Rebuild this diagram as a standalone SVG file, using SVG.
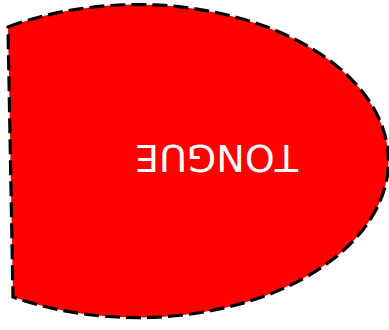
<svg xmlns="http://www.w3.org/2000/svg" width="389" height="330" viewBox="0 0 389 330">
  <style>
    .shape { fill: #ff0000; stroke: #000000; stroke-width: 3.2; stroke-dasharray: 15 6; }
    .label { font-family: "DejaVu Sans", sans-serif; font-size: 38px; fill: #ffffff; text-anchor: middle; }
  </style>
  <g id="tongue">
    <path class="shape" d="M 8 27 A 251 156.5 0 1 1 13 297 Z"/>
    <text class="label" x="216.5" y="172.5" transform="rotate(180 216.5 158.5)">TONGUE</text>
  </g>
</svg>
